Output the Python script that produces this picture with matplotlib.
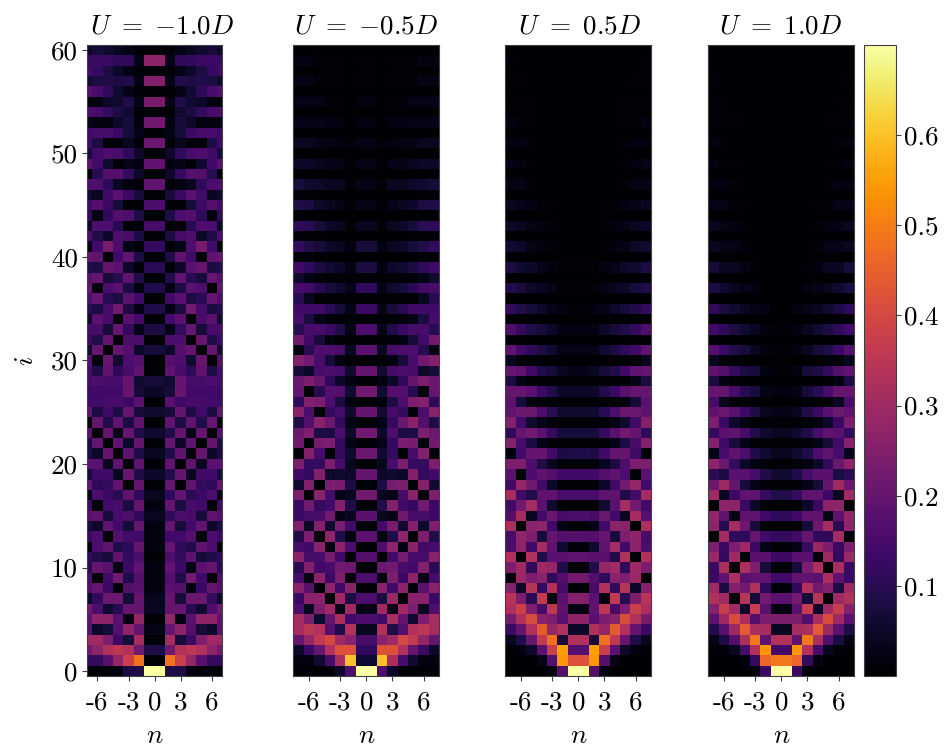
import numpy as np
import matplotlib
matplotlib.use("Agg")
import matplotlib.pyplot as plt

plt.rcParams['font.family'] = ['cmr10', 'DejaVu Sans']
plt.rcParams['mathtext.fontset'] = 'cm'
plt.rcParams['axes.unicode_minus'] = False
plt.rcParams['axes.formatter.use_mathtext'] = True

# Values in hundredths, rows i = 0..60; each row runs from the outer column to the centre
# (the maps are mirror symmetric about n = 0)
u_m10 = [
 [1,1,1,2,8,9,70],[12,12,18,28,38,48,1],[22,27,33,35,33,22,9],[30,30,24,13,7,31,1],[18,5,7,17,27,20,3],
 [19,27,27,18,2,28,1],[22,16,6,10,20,20,4],[5,12,21,21,7,20,4],[17,20,13,1,17,18,2],[16,0,14,22,9,17,2],
 [10,20,18,2,13,19,2],[11,9,7,19,12,16,1],[0,16,19,9,11,20,2],[13,16,1,17,14,14,2],[8,5,19,14,7,20,2],
 [17,19,7,15,16,11,4],[14,1,14,15,8,20,2],[3,16,13,10,19,11,4],[20,11,12,19,1,20,1],[7,14,14,4,20,9,5],
 [18,18,4,19,1,19,1],[8,5,20,1,19,9,4],[8,20,1,19,5,20,1],[18,1,20,3,20,9,6],[1,20,9,19,8,19,1],
 [20,8,14,8,20,7,6],[14,14,15,15,13,18,1],[13,14,14,14,20,7,5],[15,16,15,15,20,6,7],[15,9,19,11,15,19,1],
 [17,1,20,6,16,17,1],[6,20,1,20,17,5,7],[13,9,20,1,16,16,1],[15,15,7,20,12,3,8],[6,18,15,1,18,14,1],
 [10,8,15,22,8,2,9],[16,20,10,8,18,14,1],[20,1,16,18,8,2,9],[17,20,7,10,19,9,1],[9,8,20,18,5,1,10],
 [20,19,1,14,19,8,1],[1,14,23,16,3,1,12],[16,9,5,16,15,8,1],[5,16,16,10,1,1,15],[12,2,11,17,16,8,1],
 [14,17,13,7,1,1,16],[6,4,14,18,13,7,1],[16,16,11,4,2,1,19],[0,10,17,17,12,5,1],[18,14,6,1,3,2,19],
 [7,14,16,15,11,5,1],[14,8,1,1,4,1,21],[14,15,15,13,7,3,1],[3,2,2,5,7,2,22],[16,15,12,8,6,1,1],
 [1,2,5,6,9,3,23],[17,15,11,6,3,1,1],[6,8,9,8,9,3,25],[14,12,8,5,3,1,1],[12,13,13,11,11,3,27],
 [5,7,6,4,3,1,1],
]
u_m05 = [
 [1,1,1,1,5,16,70],[2,2,6,15,32,60,6],[5,13,20,33,42,42,11],[20,28,36,40,30,26,15],[31,35,33,17,9,33,4],
 [31,24,6,20,32,14,16],[16,4,24,30,3,30,3],[13,26,26,1,29,8,16],[26,18,1,27,14,26,1],[15,3,27,13,24,1,16],
 [10,25,14,15,22,21,1],[26,15,15,23,14,1,17],[15,14,26,2,27,16,1],[9,24,1,27,9,2,18],[24,5,25,6,23,14,1],
 [13,15,15,22,3,4,18],[13,22,12,14,25,9,1],[24,1,26,15,3,4,22],[6,25,1,24,23,8,1],[14,12,25,5,6,5,20],
 [24,12,12,24,15,4,1],[1,25,15,1,12,6,21],[22,1,23,24,12,3,1],[21,24,8,8,16,5,22],[9,17,26,21,12,3,1],
 [26,16,1,12,15,6,20],[11,25,24,16,8,2,1],[20,1,10,17,17,6,22],[21,24,20,11,5,2,1],[7,5,15,16,15,6,20],
 [25,22,15,7,2,1,1],[2,10,16,16,15,4,18],[22,14,7,2,1,1,1],[10,15,15,13,9,3,16],[15,8,3,1,1,1,1],
 [14,14,14,10,7,3,13],[10,4,1,1,1,1,1],[15,14,10,7,6,3,11],[6,3,1,1,1,1,1],[14,11,8,6,5,2,8],
 [1,1,0,0,0,0,0],[12,9,7,5,4,2,7],[1,1,1,0,0,0,0],[11,10,7,5,4,1,4],[0,0,0,0,0,0,0],
 [9,8,5,4,3,1,3],[1,1,0,0,0,0,0],[7,6,5,4,4,1,3],[0,0,0,0,0,0,0],[5,5,4,3,3,1,3],
 [0,0,0,0,0,0,0],[4,4,3,3,2,1,3],[0,0,0,0,0,0,0],[3,3,3,2,2,0,2],[0,0,0,0,0,0,0],
 [3,3,3,1,1,0,2],[0,0,0,0,0,0,0],[3,3,1,1,1,0,1],[0,0,0,0,0,0,0],[2,2,1,1,1,0,1],
 [0,0,0,0,0,0,0],
]
u_p05 = [
 [0,0,0,0,2,17,70],[0,0,0,3,17,54,42],[1,2,5,18,38,55,17],[4,9,20,36,48,7,33],[13,20,33,44,28,33,5],
 [23,33,41,26,24,18,27],[32,38,24,15,35,19,2],[34,24,10,36,2,18,25],[25,5,34,12,33,15,1],[0,29,24,26,11,17,22],
 [24,30,11,30,28,9,1],[33,1,33,9,18,18,19],[16,27,14,31,19,6,1],[15,27,24,7,20,17,17],[32,0,26,27,14,3,1],
 [17,31,4,14,21,15,16],[14,22,31,18,6,1,1],[31,14,9,19,19,15,15],[14,28,22,14,5,1,1],[18,1,16,19,17,14,14],
 [24,24,16,8,4,1,1],[1,14,20,20,14,8,9],[25,15,8,3,1,1,1],[11,20,22,18,12,7,7],[25,14,6,3,1,1,1],
 [19,21,21,16,10,6,6],[18,7,2,1,1,1,1],[20,20,18,13,9,5,5],[8,3,1,1,1,1,1],[20,19,14,9,7,4,3],
 [4,1,1,0,0,0,0],[19,14,11,8,6,3,3],[1,1,0,0,0,0,0],[16,12,9,7,5,2,2],[0,0,0,0,0,0,0],
 [12,9,7,5,3,2,1],[0,0,0,0,0,0,0],[9,7,5,4,3,1,1],[0,0,0,0,0,0,0],[8,6,5,3,2,1,1],
 [0,0,0,0,0,0,0],[6,5,3,2,1,0,0],[0,0,0,0,0,0,0],[5,4,3,2,1,0,0],[0,0,0,0,0,0,0],
 [4,3,2,1,1,0,0],[0,0,0,0,0,0,0],[3,3,1,0,0,0,0],[0,0,0,0,0,0,0],[3,2,1,0,0,0,0],
 [0,0,0,0,0,0,0],[2,2,1,0,0,0,0],[0,0,0,0,0,0,0],[2,1,1,0,0,0,0],[0,0,0,0,0,0,0],
 [1,1,1,0,0,0,0],[0,0,0,0,0,0,0],[1,1,0,0,0,0,0],[0,0,0,0,0,0,0],[1,0,0,0,0,0,0],
 [0,0,0,0,0,0,0],
]
u_p10 = [
 [0,0,0,0,1,13,70],[0,0,0,2,12,46,49],[1,1,4,15,33,54,14],[3,8,17,32,49,19,33],[9,18,30,44,32,31,4],
 [18,30,41,32,17,24,24],[25,37,30,5,37,18,2],[33,30,1,34,7,22,18],[30,8,25,22,33,11,1],[13,19,32,18,19,19,14],
 [13,32,1,32,24,7,1],[29,12,30,1,18,18,13],[24,13,24,29,13,3,1],[1,31,11,11,20,14,12],[27,10,31,21,7,1,1],
 [28,19,3,19,19,14,11],[0,27,27,13,5,1,1],[30,4,13,19,19,12,9],[21,30,20,7,3,1,1],[10,8,18,18,15,9,6],
 [27,21,12,5,2,1,1],[3,15,19,16,9,6,4],[25,14,7,3,1,1,1],[12,18,19,15,9,6,4],[24,13,5,2,1,1,1],
 [19,21,18,13,9,4,3],[15,4,1,1,1,0,0],[20,20,15,10,7,3,2],[8,2,1,0,0,0,0],[19,17,12,8,7,2,1],
 [4,1,1,0,0,0,0],[17,13,9,7,4,2,1],[1,0,0,0,0,0,0],[14,11,8,6,4,2,1],[0,0,0,0,0,0,0],
 [11,8,6,4,3,2,0],[0,0,0,0,0,0,0],[8,6,4,3,2,0,0],[0,0,0,0,0,0,0],[7,4,4,2,1,0,0],
 [0,0,0,0,0,0,0],[4,3,3,1,0,0,0],[0,0,0,0,0,0,0],[4,3,2,1,0,0,0],[0,0,0,0,0,0,0],
 [3,3,1,1,0,0,0],[0,0,0,0,0,0,0],[2,2,1,0,0,0,0],[0,0,0,0,0,0,0],[2,1,1,0,0,0,0],
 [0,0,0,0,0,0,0],[2,1,0,0,0,0,0],[0,0,0,0,0,0,0],[1,1,1,0,0,0,0],[0,0,0,0,0,0,0],
 [1,1,0,0,0,0,0],[0,0,0,0,0,0,0],[1,0,0,0,0,0,0],[0,0,0,0,0,0,0],[0,0,0,0,0,0,0],
 [0,0,0,0,0,0,0],
]
titles = [r'$U\ =\ {-}1.0D$', r'$U\ =\ {-}0.5D$', r'$U\ =\ 0.5D$', r'$U\ =\ 1.0D$']
x_tick_labels = ['-6', '-3', '0', '3', '6']
y_ticks = [0, 10, 20, 30, 40, 50, 60]
cbar_ticks = [0.1, 0.2, 0.3, 0.4, 0.5, 0.6]

W, H = 949, 749
FS = 19.5
EDGE = '#404040'


def px_axes(fig, left, right, top, bottom):
    return fig.add_axes([left / W, 1 - bottom / H, (right - left) / W, (bottom - top) / H])


def full_map(half):
    a = np.array(half, dtype=float) / 100.0
    return np.hstack([a, a[:, -2::-1]])


# the n = 0 column is drawn two cells wide; others are one cell wide
x_edges = np.array([-7, -6, -5, -4, -3, -2, -1, 1, 2, 3, 4, 5, 6, 7], dtype=float)
y_edges = np.arange(62) - 0.5
x_ticks = [-5.5, -2.5, 0, 2.5, 5.5]

fig = plt.figure(figsize=(W / 100, H / 100), dpi=100)
boxes = [(87, 222.3, -6.5, 6.5, 0.558), (293.3, 439.3, -7, 7, 0.5), (505.3, 651.3, -7, 7, 0.51), (708.3, 854.3, -7, 7, 0.495)]
mesh = None
for k, (vals, title, box) in enumerate(zip([u_m10, u_m05, u_p05, u_p10], titles, boxes)):
    ax = px_axes(fig, box[0], box[1], 44.8, 676.2)
    mesh = ax.pcolormesh(x_edges, y_edges, full_map(vals), cmap='inferno', vmin=0, vmax=0.7)
    ax.set_xlim(box[2], box[3])
    ax.set_ylim(-0.5, 60.5)
    ax.set_xticks(x_ticks)
    ax.set_xticklabels(x_tick_labels, fontsize=FS)
    if k == 0:
        ax.set_yticks(y_ticks)
        ax.set_yticklabels([str(v) for v in y_ticks], fontsize=FS)
        ax.set_ylabel(r'$i$', fontsize=FS, labelpad=9)
    else:
        ax.set_yticks([])
    ax.set_xlabel(r'$n$', fontsize=FS, labelpad=7)
    ax.set_title(title, fontsize=FS, pad=8, x=box[4])
    ax.tick_params(length=3.5, width=0.8, color=EDGE, pad=3)
    ax.tick_params(axis='x', pad=7)
    for s in ax.spines.values():
        s.set_linewidth(0.8)
        s.set_color(EDGE)

cax = px_axes(fig, 864, 896, 44.8, 676.2)
cb = fig.colorbar(mesh, cax=cax)
cb.set_ticks(cbar_ticks)
cb.set_ticklabels(['%.1f' % v for v in cbar_ticks], fontsize=FS)
cb.ax.tick_params(length=3.5, width=0.8, color=EDGE, pad=2)
cb.outline.set_linewidth(0.8)
cb.outline.set_edgecolor(EDGE)

fig.savefig('out.png', dpi=100)
